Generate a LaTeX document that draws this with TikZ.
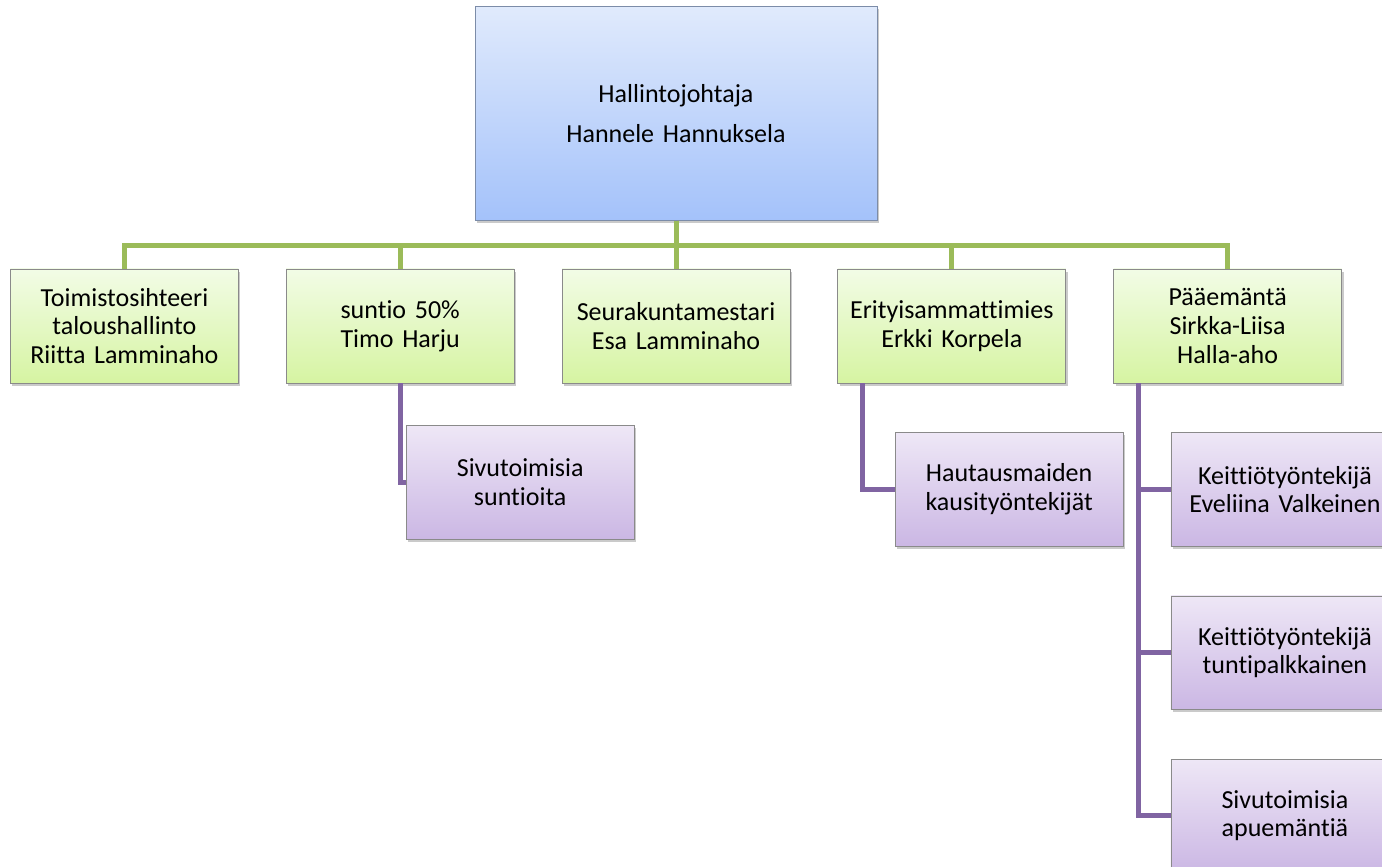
\documentclass[tikz,border=0pt]{standalone}
\usepackage{fontspec}
\setmainfont[Ligatures=CommonOff]{Carlito}
\usetikzlibrary{positioning, shadows}

\definecolor{bossTop}{HTML}{E0EAFC}
\definecolor{bossBot}{HTML}{A4C2FA}
\definecolor{bossLine}{HTML}{7C8CA8}
\definecolor{staffTop}{HTML}{F2FCE6}
\definecolor{staffBot}{HTML}{D6F4A2}
\definecolor{helperTop}{HTML}{EEE7F6}
\definecolor{helperBot}{HTML}{CBB7E4}
\definecolor{boxLine}{HTML}{8A8A8A}
\definecolor{greenLink}{HTML}{9BBB59}
\definecolor{purpleLink}{HTML}{8064A2}

\tikzset{
  orgbox/.style={draw=boxLine, line width=0.6pt, align=center, inner sep=2pt,
    font=\fontsize{19.5}{21.5}\selectfont,
    drop shadow={shadow xshift=1.5pt, shadow yshift=-2pt, opacity=0.35, fill=black!60}},
  boss/.style={orgbox, draw=bossLine, top color=bossTop, bottom color=bossBot,
    text width=297.5pt, minimum height=160pt, font=\fontsize{19.5}{30}\selectfont},
  staff/.style={orgbox, top color=staffTop, bottom color=staffBot,
    text width=167pt, minimum height=85.5pt},
  helper/.style={orgbox, top color=helperTop, bottom color=helperBot,
    text width=167pt, minimum height=85pt},
  greenlink/.style={draw=greenLink, line width=3.75pt},
  purplelink/.style={draw=purpleLink, line width=3.5pt}
}

\begin{document}
\begin{tikzpicture}[x=0.75pt, y=-0.75pt, node distance=35.25pt]
    \useasboundingbox (0,0) rectangle (1382,867);

    % Nodes
    \node [boss] (head) at (676,113.5) {Hallintojohtaja\\Hannele Hannuksela};

    \node [staff, below=36pt of head] (s3) {Seurakuntamestari\\Esa Lamminaho};
    \node [staff, left=of s3] (s2) {suntio 50\%\\Timo Harju};
    \node [staff, left=of s2] (s1) {Toimistosihteeri\\taloushallinto\\Riitta Lamminaho};
    \node [staff, right=of s3] (s4) {Erityisammattimies\\Erkki Korpela};
    \node [staff, right=of s4] (s5) {Pääemäntä\\Sirkka-Liisa\\Halla-aho};

    \node [helper, below right=31.5pt and 90pt of s2.south west] (c2) {Sivutoimisia\\suntioita};
    \node [helper, below right=36.75pt and 43pt of s4.south west] (c4) {Hautausmaiden\\kausityöntekijät};
    \node [helper, below right=36.75pt and 43pt of s5.south west] (c5a) {Keittiötyöntekijä\\Eveliina Valkeinen};
    \node [helper, below=36.75pt of c5a] (c5b) {Keittiötyöntekijä\\tuntipalkkainen};
    \node [helper, below=36.75pt of c5b] (c5c) {Sivutoimisia\\apuemäntiä};

    % Connectors
    \draw [greenlink] (head) -- (s3);
    \foreach \s in {s1, s2, s4, s5}
        \draw [greenlink] (head.south) -- ++(0,24.5) -| (\s.north);

    \draw [purplelink] (s2.south) |- (c2.west);
    \draw [purplelink] ([xshift=18.75pt]s4.south west) |- (c4.west);
    \foreach \c in {c5a, c5b, c5c}
        \draw [purplelink] ([xshift=18.75pt]s5.south west) |- (\c.west);

\end{tikzpicture}
\end{document}
